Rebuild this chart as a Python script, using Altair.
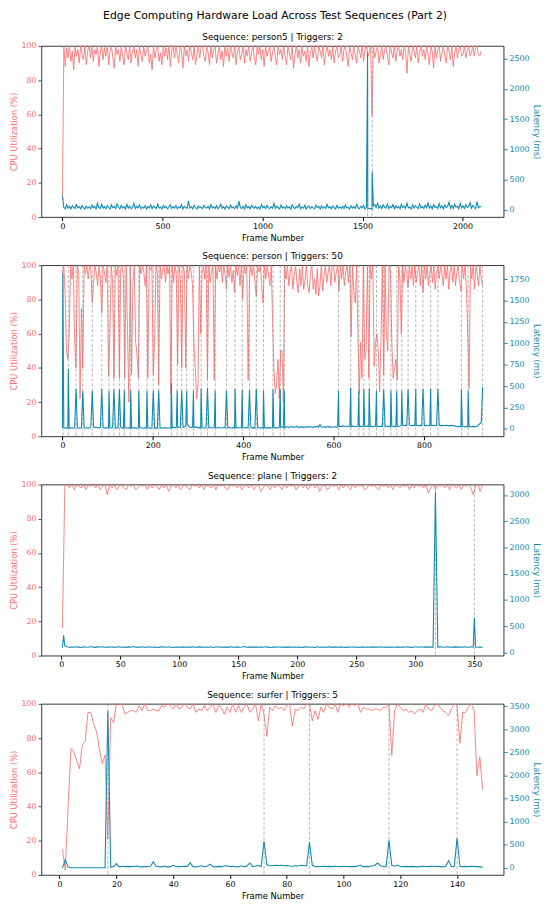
import altair as alt
import pandas as pd

FONT = "DejaVu Sans"
RED = "#FF6B6B"
BLUE = "#118AB2"
W, H = 470, 174

MAIN_TITLE = "Edge Computing Hardware Load Across Test Sequences (Part 2)"
CPU_TICKS = [0, 20, 40, 60, 80, 100]

# ---------------- person5 ----------------
p1_title = "Sequence: person5 | Triggers: 2"
p1_frames = list(range(0, 2100, 7))
p1_cpu = [
    10, 100, 88, 99, 93, 100, 91, 97, 86, 100, 94, 98, 90, 100, 95, 92, 100, 89, 97, 100,
    93, 100, 91, 98, 95, 100, 88, 96, 100, 92, 99, 94, 100, 89, 97, 100, 93, 87, 100, 95,
    98, 91, 100, 94, 89, 100, 96, 92, 100, 90, 97, 100, 93, 98, 88, 100, 95, 91, 100, 94,
    97, 100, 90, 95, 86, 100, 93, 98, 100, 91, 96, 89, 100, 94, 99, 92, 100, 88, 97, 100,
    93, 100, 95, 90, 100, 97, 87, 100, 94, 98, 91, 100, 96, 92, 100, 89, 95, 100, 93, 99,
    100, 94, 91, 100, 96, 89, 100, 93, 98, 100, 90, 95, 100, 92, 97, 88, 100, 94, 99, 91,
    100, 96, 93, 100, 89, 97, 100, 92, 95, 100, 90, 98, 94, 100, 91, 96, 100, 93, 89, 100,
    95, 100, 92, 98, 88, 100, 94, 97, 100, 91, 96, 100, 93, 89, 100, 95, 98, 92, 100, 94,
    89, 100, 96, 92, 100, 87, 95, 100, 93, 98, 90, 100, 94, 97, 91, 100, 88, 96, 100, 93,
    100, 95, 91, 100, 97, 93, 100, 89, 96, 100, 94, 98, 92, 100, 90, 97, 100, 93, 95, 100,
    91, 98, 100, 94, 88, 100, 96, 92, 100, 95, 90, 100, 97, 93, 100, 91, 98, 100, 94, 96,
    100, 59, 100, 93, 97, 100, 90, 95, 100, 92, 98, 100, 94, 89, 100, 96, 93, 100, 91, 97,
    100, 94, 98, 92, 100, 96, 84, 100, 95, 91, 100, 97, 93, 100, 90, 96, 100, 94, 98, 92,
    100, 95, 89, 100, 97, 87, 100, 93, 98, 100, 91, 96, 100, 94, 90, 100, 97, 92, 100, 88,
    96, 100, 93, 98, 100, 94, 95, 100, 93, 97, 100, 94, 96, 100, 94, 99, 100, 95, 94, 97,
]
p1_lat = [
    240, 40, 20, 85, 30, 60, 15, 70, 45, 25, 90, 35, 55, 20, 75, 40, 15, 65, 30, 50,
    20, 80, 35, 60, 15, 110, 40, 25, 95, 30, 55, 20, 70, 45, 15, 85, 35, 60, 25, 100,
    40, 20, 75, 35, 55, 15, 90, 30, 65, 20, 45, 110, 25, 60, 35, 80, 20, 50, 30, 70,
    15, 55, 35, 85, 20, 65, 40, 25, 95, 30, 50, 15, 75, 35, 60, 20, 45, 85, 25, 55,
    30, 70, 20, 50, 35, 90, 15, 60, 40, 25, 150, 30, 55, 20, 80, 40, 15, 65, 35, 50,
    20, 75, 40, 30, 60, 15, 85, 35, 50, 25, 70, 20, 45, 95, 30, 55, 15, 65, 40, 25,
    80, 35, 50, 20, 70, 30, 145, 40, 25, 60, 15, 85, 35, 55, 20, 75, 45, 30, 60, 20,
    50, 15, 90, 35, 60, 25, 75, 40, 20, 55, 30, 110, 25, 65, 40, 15, 80, 35, 50, 20,
    70, 30, 55, 15, 85, 40, 25, 60, 35, 95, 20, 50, 30, 75, 15, 45, 65, 25, 55, 35,
    20, 80, 40, 60, 15, 70, 30, 50, 25, 90, 35, 55, 20, 65, 40, 15, 75, 30, 50, 25,
    60, 20, 85, 35, 45, 15, 70, 30, 55, 25, 95, 40, 20, 60, 35, 75, 15, 50, 30, 20,
    25, 15, 70, 90, 40, 110, 30, 65, 20, 85, 45, 30, 100, 25, 60, 40, 90, 20, 70, 35,
    55, 20, 95, 40, 65, 25, 110, 35, 50, 15, 85, 30, 70, 45, 20, 100, 35, 60, 25, 80,
    40, 115, 30, 65, 20, 90, 45, 55, 25, 105, 35, 70, 20, 85, 40, 60, 130, 30, 75, 25,
    95, 45, 60, 20, 110, 35, 70, 25, 85, 40, 55, 120, 30, 75, 45, 20, 140, 35, 60, 50,
]
p1_spike_frames = [1525, 1548]
p1_spike_values = [2580, 630]
p1_triggers = [1525, 1548]

# ---------------- person ----------------
p2_title = "Sequence: person | Triggers: 50"
p2_frames = list(range(0, 931, 3))
p2_cpu = [
    95, 100, 83, 50, 45, 60, 100, 92, 100, 55, 40, 100, 96, 22, 75, 40, 100, 95, 100, 92,
    100, 97, 78, 90, 100, 95, 88, 100, 92, 72, 100, 96, 90, 100, 35, 60, 100, 90, 34, 100,
    94, 100, 34, 98, 100, 92, 34, 100, 62, 20, 100, 36, 90, 100, 55, 48, 34, 100, 95, 100,
    96, 88, 100, 34, 100, 97, 100, 36, 55, 100, 95, 30, 100, 92, 98, 100, 90, 100, 95, 100,
    25, 100, 90, 100, 95, 42, 100, 92, 40, 100, 96, 40, 100, 92, 100, 96, 88, 55, 40, 22,
    30, 100, 60, 95, 100, 92, 100, 33, 100, 90, 96, 100, 33, 100, 92, 100, 96, 100, 90, 100,
    95, 86, 100, 93, 100, 90, 97, 84, 100, 94, 100, 88, 100, 80, 100, 95, 100, 33, 92, 100,
    94, 100, 90, 82, 100, 96, 100, 88, 78, 100, 92, 100, 95, 88, 100, 70, 40, 25, 30, 45,
    22, 50, 50, 20, 100, 92, 100, 88, 96, 100, 86, 94, 100, 90, 84, 98, 88, 100, 86, 92,
    100, 88, 84, 96, 100, 86, 92, 83, 98, 82, 88, 100, 85, 94, 100, 90, 96, 100, 88, 100,
    100, 90, 96, 100, 85, 100, 92, 100, 88, 96, 100, 90, 100, 58, 100, 84, 78, 100, 60, 25,
    55, 34, 100, 45, 50, 100, 34, 100, 92, 100, 41, 55, 60, 50, 26, 55, 100, 36, 100, 60,
    50, 100, 96, 55, 34, 40, 45, 33, 100, 92, 60, 100, 90, 100, 95, 87, 100, 92, 100, 88,
    100, 90, 96, 100, 88, 100, 84, 100, 92, 100, 88, 96, 100, 90, 100, 86, 96, 100, 92, 100,
    95, 88, 100, 92, 100, 86, 96, 100, 90, 100, 88, 96, 100, 90, 85, 100, 92, 100, 88, 60,
    28, 100, 92, 100, 86, 100, 95, 88, 100, 92, 88,
]
p2_lat = [
    10, 12, 8, 15, 10, 9, 14, 11, 8, 12, 10, 15, 9, 11, 13, 8, 12, 10, 14, 9,
    11, 25, 30, 22, 18, 20, 15, 12, 18, 10, 14, 9, 12, 16, 10, 13, 11, 15, 9, 12,
    14, 10, 12, 18, 11, 9, 15, 12, 10, 14, 8, 11, 16, 10, 13, 9, 12, 15, 10, 11,
    9, 13, 10, 15, 12, 8, 11, 14, 10, 12, 9, 16, 11, 13, 10, 12, 15, 9, 11, 14,
    10, 12, 20, 15, 18, 22, 16, 20, 25, 18, 22, 30, 55, 35, 20, 18, 22, 16, 20, 24,
    12, 15, 11, 16, 13, 10, 14, 12, 15, 17, 11, 13, 16, 12, 10, 15, 13, 11, 14, 16,
    12, 14, 11, 16, 13, 10, 15, 12, 14, 17, 11, 13, 15, 12, 10, 14, 16, 11, 13, 15,
    12, 15, 10, 14, 16, 12, 11, 15, 13, 16, 10, 14, 12, 15, 11, 13, 15, 12, 14, 10,
    22, 19, 25, 15, 12, 20, 28, 15, 22, 30, 18, 25, 20, 32, 16, 24, 19, 28, 14, 22,
    26, 18, 30, 20, 24, 16, 28, 22, 35, 18, 50, 25, 20, 28, 16, 24, 30, 18, 26, 20,
    22, 28, 18, 25, 30, 32, 28, 35, 30, 26, 33, 28, 30, 25, 35, 28, 30, 26, 32, 28,
    30, 25, 33, 28, 30, 35, 27, 30, 32, 26, 30, 34, 28, 30, 25, 32, 28, 30, 27, 33,
    28, 30, 26, 32, 29, 30, 27, 33, 28, 30, 45, 40, 38, 42, 40, 38, 44, 40, 39, 42,
    40, 38, 42, 39, 41, 38, 43, 40, 39, 42, 38, 40, 41, 39, 43, 40, 38, 42, 40, 39,
    41, 38, 40, 42, 39, 40, 38, 41, 39, 40, 30, 28, 26, 30, 25, 28, 26, 24, 28, 26,
    25, 28, 26, 30, 27, 29, 32, 50, 60, 80, 70,
]
p2_triggers = [
    1, 13, 30, 45, 66, 87, 103, 114, 126, 137,
    151, 169, 187, 201, 213, 241, 254, 264, 275, 290,
    307, 321, 338, 363, 382, 398, 414, 429, 445, 466,
    482, 491, 611, 638, 656, 667, 679, 695, 711, 727,
    740, 751, 765, 782, 798, 815, 831, 883, 898, 930,
]
p2_spike_values = [
    1820, 700, 470, 445, 445, 470, 445, 460, 460, 450,
    450, 445, 445, 445, 450, 540, 450, 445, 445, 445,
    470, 480, 445, 445, 470, 455, 455, 470, 445, 460,
    460, 445, 445, 480, 445, 470, 470, 445, 460, 445,
    450, 445, 460, 470, 470, 470, 470, 460, 445, 490,
]

# ---------------- plane ----------------
p3_title = "Sequence: plane | Triggers: 2"
p3_frames = list(range(1, 358, 2))
p3_cpu = [
    16, 99, 100, 98, 100, 97, 100, 99, 98, 100, 97, 100, 99, 100, 98, 100, 97, 99, 100, 94,
    100, 98, 100, 97, 99, 100, 98, 97, 100, 99, 100, 97, 98, 100, 99, 100, 97, 100, 98, 100,
    99, 97, 100, 98, 100, 96, 99, 100, 98, 100, 97, 99, 100, 98, 97, 100, 99, 100, 98, 100,
    97, 100, 99, 98, 100, 97, 100, 99, 100, 98, 97, 100, 99, 100, 98, 100, 97, 99, 100, 98,
    100, 97, 99, 100, 96, 98, 100, 99, 97, 100, 98, 100, 99, 97, 100, 98, 100, 99, 100, 97,
    99, 100, 98, 100, 97, 99, 100, 98, 100, 96, 99, 100, 97, 98, 100, 99, 100, 97, 100, 98,
    100, 99, 97, 100, 98, 100, 99, 100, 97, 98, 100, 99, 100, 98, 97, 100, 99, 100, 98, 100,
    97, 100, 99, 98, 100, 99, 100, 97, 100, 98, 100, 99, 100, 98, 100, 95, 98, 100, 97, 100,
    99, 100, 98, 100, 97, 100, 99, 98, 100, 97, 100, 99, 100, 98, 94, 99, 100, 96, 100,
]
p3_lat = [
    95, 125, 110, 100, 105, 98, 108, 102, 96, 110, 104, 99, 112, 101, 97, 106, 103, 110, 98, 105,
    101, 108, 96, 104, 110, 99, 103, 97, 106, 100, 112, 98, 104, 101, 109, 96, 103, 107, 99, 105,
    100, 97, 108, 103, 99, 110, 101, 96, 105, 102, 98, 107, 100, 104, 97, 109, 101, 99, 106, 102,
    98, 104, 100, 107, 96, 103, 110, 99, 105, 101, 97, 108, 102, 100, 106, 98, 103, 112, 99, 104,
    101, 97, 106, 100, 103, 98, 109, 102, 96, 105, 100, 108, 99, 104, 101, 97, 106, 100, 103, 98,
    105, 100, 97, 108, 102, 99, 104, 96, 110, 101, 98, 103, 100, 107, 97, 104, 101, 99, 106, 100,
    97, 104, 101, 108, 99, 103, 96, 106, 100, 102, 98, 107, 101, 104, 99, 109, 100, 103, 97, 105,
    101, 98, 106, 100, 104, 99, 108, 102, 97, 105, 103, 100, 110, 98, 106, 101, 104, 99, 107, 102,
    110, 104, 100, 108, 102, 99, 106, 101, 104, 98, 107, 103, 100, 109, 101, 105, 98, 103, 95,
]
p3_spike_frames = [2, 317, 350]
p3_spike_values = [325, 3050, 665]
p3_triggers = [317, 350]

# ---------------- surfer ----------------
p4_title = "Sequence: surfer | Triggers: 5"
p4_frames = list(range(1, 150))
p4_cpu = [
    15, 3, 40, 74, 72, 67, 62, 76, 78, 95,
    95, 88, 84, 74, 65, 70, 21, 92, 89, 100,
    100, 100, 94, 95, 96, 96, 95, 99, 96, 100,
    96, 96, 97, 96, 96, 99, 98, 100, 99, 97,
    100, 97, 98, 100, 98, 97, 100, 95, 97, 96,
    99, 96, 98, 100, 95, 99, 98, 94, 98, 95,
    100, 95, 99, 95, 98, 100, 95, 97, 100, 90,
    100, 94, 81, 98, 96, 99, 97, 98, 96, 99,
    100, 87, 97, 96, 98, 97, 100, 100, 90, 96,
    91, 98, 95, 100, 98, 97, 100, 95, 100, 99,
    100, 98, 100, 99, 100, 95, 98, 97, 97, 96,
    97, 97, 96, 98, 98, 100, 70, 96, 100, 98,
    96, 97, 95, 96, 94, 96, 97, 95, 100, 97,
    96, 99, 100, 98, 96, 95, 93, 97, 100, 99,
    77, 95, 95, 98, 100, 96, 58, 69, 50,
]
p4_lat = [
    5, 180, 20, 8, 5, 5, 5, 5, 5, 5,
    5, 5, 5, 5, 5, 6, 3400, 20, 30, 95,
    25, 40, 30, 35, 30, 35, 45, 30, 25, 30,
    35, 40, 135, 40, 30, 25, 45, 20, 30, 60,
    35, 30, 35, 40, 35, 110, 30, 25, 35, 50,
    30, 40, 85, 30, 25, 35, 30, 45, 50, 35,
    40, 30, 25, 50, 30, 45, 110, 35, 40, 60,
    30, 580, 70, 55, 50, 60, 55, 60, 50, 55,
    45, 40, 50, 45, 60, 55, 45, 555, 60, 35,
    30, 35, 40, 30, 35, 30, 40, 35, 30, 40,
    35, 30, 35, 30, 45, 60, 30, 35, 30, 45,
    55, 110, 50, 35, 30, 600, 60, 40, 65, 35,
    30, 35, 30, 35, 30, 25, 30, 40, 35, 30,
    45, 35, 40, 30, 25, 40, 160, 35, 30, 650,
    40, 30, 35, 30, 40, 35, 30, 25, 20,
]
p4_triggers = [17, 72, 88, 116, 140]

assert len(p1_cpu) == len(p1_frames) == len(p1_lat)
assert len(p2_cpu) == len(p2_frames) == len(p2_lat)
assert len(p2_triggers) == len(p2_spike_values) == 50
assert len(p3_cpu) == len(p3_frames) == len(p3_lat)
assert len(p4_cpu) == len(p4_frames) == len(p4_lat)


def make_panel(title, frames, cpu, lat, spike_frames, spike_values, triggers,
               xdom, xticks, ldom, lticks):
    cpu_df = pd.DataFrame({"frame": frames, "cpu": cpu})
    lat_df = pd.DataFrame({"frame": frames, "lat": lat})
    if spike_frames:
        sp = pd.DataFrame({"frame": spike_frames, "lat": spike_values})
        lat_df = pd.concat([lat_df[~lat_df["frame"].isin(spike_frames)], sp])
        lat_df = lat_df.sort_values("frame").reset_index(drop=True)
    trig_df = pd.DataFrame({"frame": triggers})

    x = alt.X(
        "frame:Q",
        scale=alt.Scale(domain=xdom, nice=False, zero=False),
        axis=alt.Axis(values=xticks, title="Frame Number", format="d",
                      labelColor="black", titleColor="black", tickColor="black",
                      labelFlush=False),
    )
    cpu_layer = alt.Chart(cpu_df).mark_line(
        color=RED, strokeWidth=1.0, opacity=0.85, clip=True
    ).encode(
        x=x,
        y=alt.Y("cpu:Q", scale=alt.Scale(domain=[0, 100], nice=False),
                axis=alt.Axis(orient="left", values=CPU_TICKS, format="d",
                              title="CPU Utilization (%)", labelColor=RED,
                              titleColor=RED, tickColor="#555")),
    )
    trig_layer = alt.Chart(trig_df).mark_rule(
        color="#8a8a8a", strokeDash=[3, 2], strokeWidth=0.8, opacity=0.8
    ).encode(x=x)
    lat_layer = alt.Chart(lat_df).mark_line(
        color=BLUE, strokeWidth=1.1, clip=True
    ).encode(
        x=x,
        y=alt.Y("lat:Q", scale=alt.Scale(domain=ldom, nice=False, zero=False),
                axis=alt.Axis(orient="right", values=lticks, format="d",
                              title="Latency (ms)", labelColor=BLUE,
                              titleColor=BLUE, tickColor=BLUE)),
    )
    return alt.layer(cpu_layer, trig_layer, lat_layer).resolve_scale(
        y="independent"
    ).properties(
        width=W, height=H,
        title=alt.TitleParams(title, fontSize=9, fontWeight="normal", font=FONT,
                              offset=0, color="black"),
    )


panels = [
    make_panel(p1_title, p1_frames, p1_cpu, p1_lat, p1_spike_frames, p1_spike_values,
               p1_triggers, [-105, 2205], [0, 500, 1000, 1500, 2000],
               [-117, 2708], [0, 500, 1000, 1500, 2000, 2500]),
    make_panel(p2_title, p2_frames, p2_cpu, p2_lat, p2_triggers, p2_spike_values,
               p2_triggers, [-46.5, 976.5], [0, 200, 400, 600, 800],
               [-87, 1913], [0, 250, 500, 750, 1000, 1250, 1500, 1750]),
    make_panel(p3_title, p3_frames, p3_cpu, p3_lat, p3_spike_frames, p3_spike_values,
               p3_triggers, [-16.8, 374.8], [0, 50, 100, 150, 200, 250, 300, 350],
               [-61, 3197], [0, 500, 1000, 1500, 2000, 2500, 3000]),
    make_panel(p4_title, p4_frames, p4_cpu, p4_lat, [], [],
               p4_triggers, [-6.4, 156.4], [0, 20, 40, 60, 80, 100, 120, 140],
               [-150, 3550], [0, 500, 1000, 1500, 2000, 2500, 3000, 3500]),
]

chart = alt.vconcat(*panels, spacing=9).properties(
    title=alt.TitleParams(MAIN_TITLE, fontSize=11, fontWeight="normal", font=FONT,
                          anchor="middle", offset=12, color="black"),
    padding={"left": 0, "top": -6, "right": 0, "bottom": 0},
).configure_view(
    stroke="black", strokeWidth=0.8
).configure_axis(
    grid=False, domain=False, labelFont=FONT, titleFont=FONT, labelFontSize=8,
    titleFontSize=8.5, titleFontWeight="normal", tickSize=3.5, labelPadding=2,
    titlePadding=3,
)

chart.save("out.html", embed_options={"renderer": "svg", "actions": False})
